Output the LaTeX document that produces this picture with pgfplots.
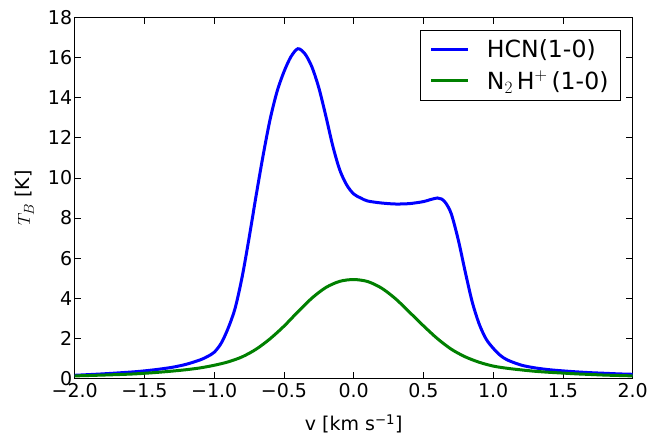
\documentclass[border=0pt]{standalone}
\usepackage{fontspec}
\setmainfont{DejaVu Sans}
\usepackage{pgfplots}
\pgfplotsset{compat=1.18}
\definecolor{mplgreen}{rgb}{0,0.5,0}
\begin{document}
\begin{tikzpicture}
\begin{axis}[
  scale only axis, width=558pt, height=360.6pt,
  xmin=-2, xmax=2, ymin=0, ymax=18,
  xtick={-2,-1.5,-1,-0.5,0,0.5,1,1.5,2},
  xticklabels={−2.0,−1.5,−1.0,−0.5,0.0,0.5,1.0,1.5,2.0},
  ytick={0,2,4,6,8,10,12,14,16,18},
  tick align=inside, major tick length=6.5pt,
  tick style={line width=0.9pt, black},
  axis line style={line width=1.2pt},
  /pgf/number format/assume math mode=true,
  ticklabel style={font=\fontsize{19}{22}\selectfont},
  xticklabel style={yshift=-2pt},
  yticklabel style={xshift=1pt},
  xlabel={v [km s\textsuperscript{−1}]},
  ylabel={$T_B$ [K]},
  label style={font=\fontsize{19}{22}\selectfont},
  xlabel style={at={(axis description cs:0.5,-0.1267)}, anchor=center},
  ylabel style={at={(axis description cs:-0.0896,0.5)}, anchor=center},
  legend style={at={(0.979,0.966)}, anchor=north east, draw=black, line width=1pt,
    font=\fontsize{23.6}{28}\selectfont, inner xsep=9pt, inner ysep=6pt, row sep=6pt,
    nodes={inner sep=3pt}},
  legend cell align=left,
  legend image code/.code={\draw[#1] (0pt,0pt) -- (37pt,0pt);},
  /tikz/every odd column/.append style={column sep=14pt},
]
\addplot[blue, line width=3pt, smooth] coordinates {
(-2.0,0.15) (-1.8,0.22) (-1.6,0.31) (-1.5,0.37) (-1.4,0.45) (-1.3,0.55)
(-1.2,0.70) (-1.1,0.92) (-1.05,1.08) (-1.0,1.30) (-0.95,1.75) (-0.9,2.5)
(-0.85,3.5) (-0.8,5.05) (-0.75,7.0) (-0.7,9.1) (-0.65,11.1) (-0.6,12.9)
(-0.55,14.3) (-0.5,15.3) (-0.45,16.05) (-0.4,16.45) (-0.35,16.2) (-0.3,15.55)
(-0.25,14.5) (-0.2,13.1) (-0.15,11.6) (-0.1,10.4)
(-0.05,9.65) (0.0,9.2) (0.05,9.0) (0.1,8.85) (0.2,8.75) (0.3,8.7) (0.4,8.72)
(0.5,8.82) (0.55,8.92) (0.6,9.0) (0.63,8.95) (0.66,8.75) (0.7,8.2) (0.75,6.9)
(0.8,5.3) (0.85,3.8) (0.9,2.7) (0.95,1.95) (1.0,1.5) (1.05,1.15) (1.1,0.92)
(1.2,0.66) (1.3,0.52) (1.4,0.43) (1.5,0.37) (1.6,0.32) (1.7,0.28) (1.8,0.25)
(1.9,0.22) (2.0,0.2)
};
\addlegendentry{HCN(1-0)}
\addplot[mplgreen, line width=3pt, smooth] coordinates {
(-2.0,0.12) (-1.8,0.16) (-1.6,0.21) (-1.5,0.25) (-1.4,0.30) (-1.3,0.36)
(-1.2,0.43) (-1.1,0.52) (-1.0,0.65) (-0.9,0.82) (-0.8,1.07) (-0.7,1.45)
(-0.6,1.97) (-0.5,2.6) (-0.4,3.32) (-0.3,4.0) (-0.2,4.53) (-0.1,4.84)
(0.0,4.93) (0.1,4.83) (0.2,4.5) (0.3,3.97) (0.4,3.3) (0.5,2.62) (0.6,1.98)
(0.7,1.45) (0.8,1.07) (0.9,0.8) (1.0,0.61) (1.1,0.5) (1.2,0.42) (1.3,0.35)
(1.4,0.30) (1.5,0.26) (1.6,0.22) (1.7,0.19) (1.8,0.16) (1.9,0.14) (2.0,0.12)
};
\addlegendentry{N$_2$\,H$^+$\,(1-0)}
\end{axis}
\pgfresetboundingbox
\path[use as bounding box] ([shift={(-74.7pt,-56.7pt)}]current axis.south west) rectangle ++(668pt,435pt);
\end{tikzpicture}
\end{document}
